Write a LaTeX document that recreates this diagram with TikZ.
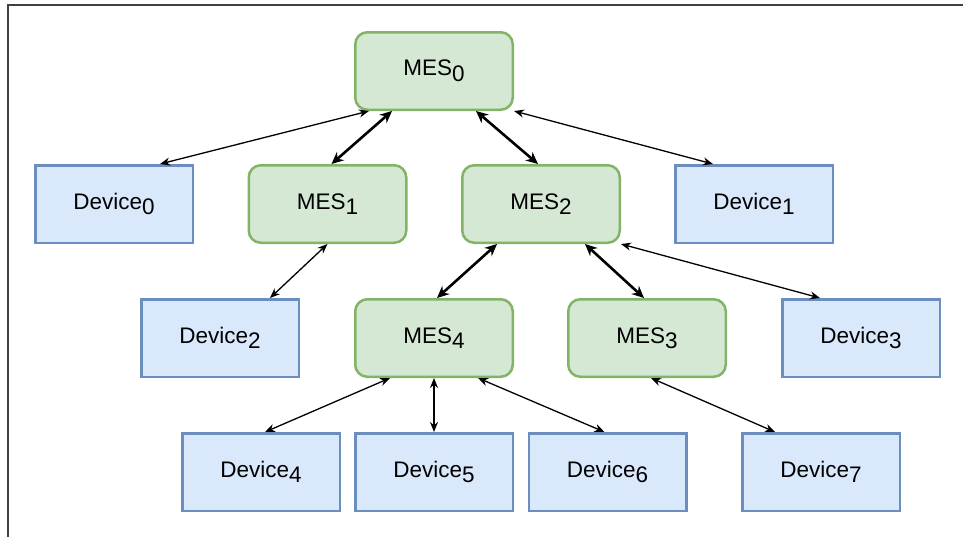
\documentclass[tikz,border=0pt]{standalone}
\usepackage{fontspec}
\setmainfont{Liberation Sans}
\usetikzlibrary{calc,arrows.meta}

\definecolor{mesfill}{HTML}{D5E8D4}
\definecolor{mesline}{HTML}{82B366}
\definecolor{devfill}{HTML}{DAE8FC}
\definecolor{devline}{HTML}{6C8EBF}

% lowered index in the labels
\newcommand{\lowidx}[1]{\raisebox{-5.5pt}{\fontsize{22.5}{24}\selectfont #1}}

\tikzset{
  box/.style={minimum width=157.5pt, minimum height=77.5pt, line width=2.5pt,
    inner sep=0pt, font=\fontsize{22.5}{27}\selectfont},
  mes/.style={box, draw=mesline, fill=mesfill, rounded corners=12pt},
  dev/.style={box, draw=devline, fill=devfill},
  link/.style={line width=1.3pt, {Stealth[length=10pt,width=8pt]}-{Stealth[length=10pt,width=8pt]}},
  trunk/.style={line width=2.6pt, {Stealth[length=12pt,width=11pt]}-{Stealth[length=12pt,width=11pt]}},
  frame/.style={line width=2.5pt, draw=black!75}
}

\begin{document}
\begin{tikzpicture}[x=1pt, y=-1pt]
\useasboundingbox (0,0) rectangle (963,536);
\clip (0,0) rectangle (963,536);

% outer frame
\coordinate (fa) at (8,540);
\coordinate (fb) at (8,5);
\coordinate (fc) at (968,5);
\draw[frame] (fa) -- (fb) -- (fc);

% MES hierarchy
\node[mes] (MES0) at (434,71)  {MES\lowidx{0}};
\node[mes] (MES1) at (327.5,204) {MES\lowidx{1}};
\node[mes] (MES2) at (541,204) {MES\lowidx{2}};
\node[mes] (MES4) at (434,338) {MES\lowidx{4}};
\node[mes] (MES3) at (647,338) {MES\lowidx{3}};

% devices
\node[dev] (Dev0) at (114,204) {Device\lowidx{0}};
\node[dev] (Dev1) at (754,204) {Device\lowidx{1}};
\node[dev] (Dev2) at (220,338) {Device\lowidx{2}};
\node[dev] (Dev3) at (861,338) {Device\lowidx{3}};
\node[dev] (Dev4) at (261,472) {Device\lowidx{4}};
\node[dev] (Dev5) at (434,472) {Device\lowidx{5}};
\node[dev] (Dev6) at (607.5,472) {Device\lowidx{6}};
\node[dev] (Dev7) at (821,472) {Device\lowidx{7}};

% links between MES nodes
\draw[trunk] ($(MES1.north)+(4,0)$) -- ($(MES0.south)+(-42,0)$);
\draw[trunk] ($(MES0.south)+(42,0)$) -- ($(MES2.north)+(-3,0)$);
\draw[trunk] ($(MES4.north)+(3,0)$) -- ($(MES2.south)+(-44,0)$);
\draw[trunk] ($(MES3.north)+(-3,0)$) -- ($(MES2.south)+(44,0)$);

% links from devices to MES nodes
\draw[link] ($(Dev0.north)+(46,0)$) -- ($(MES0.south)+(-65,0)$);
\draw[link] (MES0.south east) -- ($(Dev1.north)+(-41,0)$);
\draw[link] ($(Dev2.north)+(50,0)$) -- (MES1.south);
\draw[link] (MES2.south east) -- ($(Dev3.north)+(-41,0)$);
\draw[link] ($(Dev4.north)+(4,0)$) -- ($(MES4.south)+(-44,0)$);
\draw[link, line width=1.8pt] (Dev5.north) -- (MES4.south);
\draw[link] ($(Dev6.north)+(-3,0)$) -- ($(MES4.south)+(44,0)$);
\draw[link] ($(Dev7.north)+(-46,0)$) -- ($(MES3.south)+(4,0)$);
\end{tikzpicture}
\end{document}
